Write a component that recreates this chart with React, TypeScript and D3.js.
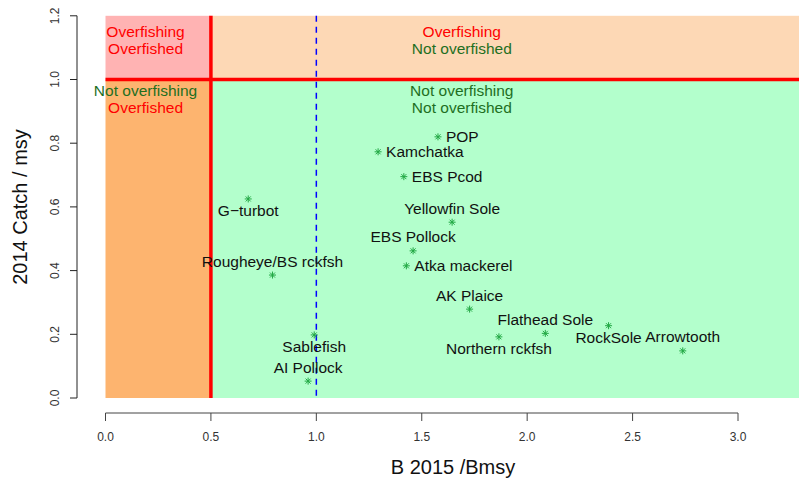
import React from 'react';
import * as d3 from 'd3';

const W = 799;
const H = 482;

// stocks: B2015/Bmsy, 2014 catch/msy, where the label sits
const stocks = ['POP', 'Kamchatka', 'EBS Pcod', 'Yellowfin Sole', 'EBS Pollock', 'Atka mackerel',
  'G\u2212turbot', 'Rougheye/BS rckfsh', 'Sablefish', 'AI Pollock', 'AK Plaice',
  'Northern rckfsh', 'Flathead Sole', 'RockSole', 'Arrowtooth'];
const bRatio = [1.577, 1.293, 1.415, 1.644, 1.459, 1.427, 0.677, 0.792, 0.99, 0.961, 1.727,
  1.866, 2.086, 2.386, 2.738];
const catchRatio = [0.82, 0.773, 0.695, 0.552, 0.462, 0.415, 0.625, 0.386, 0.198, 0.053, 0.279,
  0.192, 0.203, 0.227, 0.148];
const labelPos = ['right', 'right', 'right', 'above', 'above', 'right', 'below', 'above', 'below',
  'above', 'above', 'below', 'above', 'below', 'above'];

const xTicks = [0, 0.5, 1, 1.5, 2, 2.5, 3];
const yTicks = [0, 0.2, 0.4, 0.6, 0.8, 1.0, 1.2];

const RED = '#ff0000';
const DKGREEN = '#1f6f1f';
const FONT = 'Liberation Sans, Arial, sans-serif';

function Star({ cx, cy }) {
  const a = 3.5;
  const b = 2.5;
  return (
    <g stroke="#22a844" strokeWidth={1}>
      <line x1={cx - a} y1={cy} x2={cx + a} y2={cy} />
      <line x1={cx} y1={cy - a} x2={cx} y2={cy + a} />
      <line x1={cx - b} y1={cy - b} x2={cx + b} y2={cy + b} />
      <line x1={cx - b} y1={cy + b} x2={cx + b} y2={cy - b} />
    </g>
  );
}

export default function App() {
  const x = d3.scaleLinear().domain([0, 3]).range([105.5, 738]);
  const y = d3.scaleLinear().domain([0, 1.2]).range([398, 15.8]);
  const xRight = W + 10;
  const axisY = 413;

  const quadLabels = [
    { cx: 0.19, lines: [['Overfishing', RED], ['Overfished', RED]], y0: 1.15 },
    { cx: 1.69, lines: [['Overfishing', RED], ['Not overfished', DKGREEN]], y0: 1.15 },
    { cx: 0.19, lines: [['Not overfishing', DKGREEN], ['Overfished', RED]], y0: 0.964 },
    { cx: 1.69, lines: [['Not overfishing', DKGREEN], ['Not overfished', DKGREEN]], y0: 0.964 },
  ];

  return (
    <svg width={W} height={H} style={{ position: 'absolute', left: 0, top: 0 }}
      fontFamily={FONT}>
      <rect x={0} y={0} width={W} height={H} fill="#fff" />
      {/* zones */}
      <rect x={x(0)} y={y(1.2)} width={x(0.5) - x(0)} height={y(1.0) - y(1.2)} fill="#ffb3b3" />
      <rect x={x(0.5)} y={y(1.2)} width={xRight - x(0.5)} height={y(1.0) - y(1.2)} fill="#fdd8b5" />
      <rect x={x(0)} y={y(1.0)} width={x(0.5) - x(0)} height={y(0) - y(1.0)} fill="#fdb46f" />
      <rect x={x(0.5)} y={y(1.0)} width={xRight - x(0.5)} height={y(0) - y(1.0)} fill="#b3ffcc" />

      <line x1={x(0)} x2={xRight} y1={y(1)} y2={y(1)} stroke={RED} strokeWidth={3.5} />
      <line x1={x(0.5)} x2={x(0.5)} y1={y(1.2)} y2={y(0)} stroke={RED} strokeWidth={3.5} />
      <line x1={x(1)} x2={x(1)} y1={y(1.2)} y2={y(0)} stroke="#0000ff" strokeWidth={1.5}
        strokeDasharray="6 5" />

      {quadLabels.map((q, i) => (
        <g key={i} fontSize={15.5} textAnchor="middle">
          {q.lines.map((l, j) => (
            <text key={j} x={x(q.cx)} y={y(q.y0) + j * 17} dominantBaseline="central" fill={l[1]}>
              {l[0]}
            </text>
          ))}
        </g>
      ))}

      {stocks.map((s, i) => {
        const px = x(bRatio[i]);
        const py = y(catchRatio[i]);
        const p = labelPos[i];
        let tx = px;
        let ty = py;
        let anchor = 'middle';
        if (p === 'right') { tx = px + 8; anchor = 'start'; }
        if (p === 'above') ty = py - 14;
        if (p === 'below') ty = py + 12;
        return (
          <g key={s}>
            <Star cx={px} cy={py} />
            <text x={tx} y={ty} fontSize={15.5} textAnchor={anchor} dominantBaseline="central"
              fill="#111">{s}</text>
          </g>
        );
      })}

      {/* x axis */}
      <g stroke="#444" strokeWidth={1}>
        <line x1={x(0)} x2={x(3)} y1={axisY} y2={axisY} />
        {xTicks.map(t => <line key={t} x1={x(t)} x2={x(t)} y1={axisY} y2={axisY + 8} />)}
      </g>
      {xTicks.map(t => (
        <text key={t} x={x(t)} y={437} fontSize={12} textAnchor="middle" dominantBaseline="central"
          fill="#333">{d3.format('.1f')(t)}</text>
      ))}
      <text x={453} y={467} fontSize={20} textAnchor="middle" dominantBaseline="central" fill="#111">
        B 2015 /Bmsy
      </text>

      {/* y axis */}
      <g stroke="#222" strokeWidth={1}>
        <line x1={77} x2={77} y1={y(0)} y2={y(1.2)} />
        {yTicks.map(t => <line key={t} x1={70} x2={77} y1={y(t)} y2={y(t)} />)}
      </g>
      {yTicks.map(t => (
        <text key={t} transform={`translate(55,${y(t)}) rotate(-90)`} fontSize={12}
          textAnchor="middle" dominantBaseline="central" fill="#333">{d3.format('.1f')(t)}</text>
      ))}
      <text transform={`translate(20,207) rotate(-90)`} fontSize={20}
        textAnchor="middle" dominantBaseline="central" fill="#111">2014 Catch / msy</text>
    </svg>
  );
}
